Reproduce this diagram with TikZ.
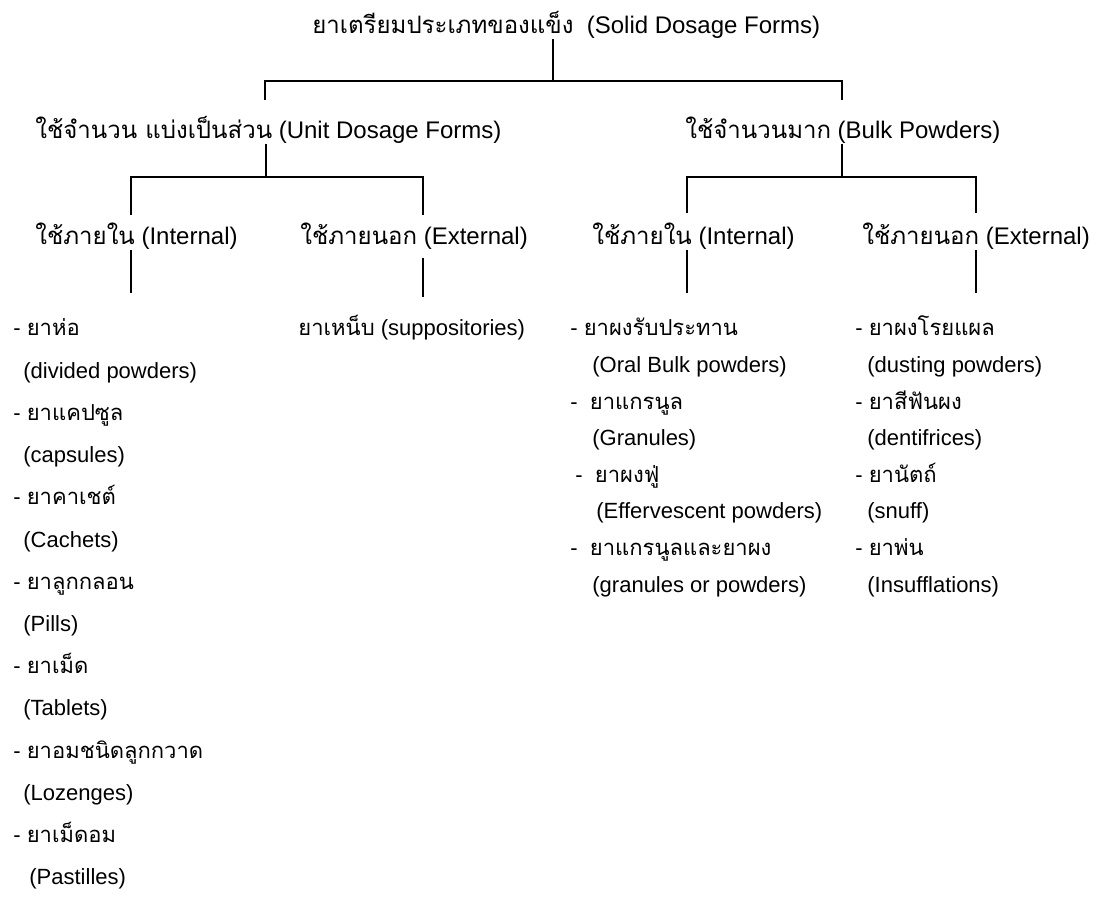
\documentclass[tikz,border=0pt]{standalone}
\usepackage{fontspec}
\setmainfont{Liberation Sans}
\newfontfamily\thaifont[Script=Thai]{Loma}
\newcommand{\tw}[1]{{\thaifont #1}}

\begin{document}
\begin{tikzpicture}[x=0.5pt,y=-0.5pt,
	lbl/.style={anchor=base west,inner sep=0pt,font=\fontsize{12}{14}\selectfont},
	item/.style={anchor=base west,inner sep=0pt,font=\fontsize{11}{13}\selectfont},
	bar/.style={line width=1pt}]
	\useasboundingbox (0,0) rectangle (1098,919);

	% levels
	\node[lbl] (solid) at (312,34) {\tw{ยาเตรียมประเภทของแข็ง}\ \ (Solid Dosage Forms)};
	\node[lbl] (unit) at (35,139) {\tw{ใช้จำนวน แบ่งเป็นส่วน} (Unit Dosage Forms)};
	\node[lbl] (bulk) at (685,139) {\tw{ใช้จำนวนมาก} (Bulk Powders)};
	\node[lbl] (uint) at (35,245) {\tw{ใช้ภายใน} (Internal)};
	\node[lbl] (uext) at (300,245) {\tw{ใช้ภายนอก} (External)};
	\node[lbl] (bint) at (592,245) {\tw{ใช้ภายใน} (Internal)};
	\node[lbl] (bext) at (862,245) {\tw{ใช้ภายนอก} (External)};

	% brackets
	\coordinate (j1) at (553,81);
	\coordinate (j1a) at (265,100);
	\coordinate (j1b) at (842,100);
	\draw[bar] (j1 |- solid.south) -- (j1);
	\draw[bar] (j1a) |- (j1b |- j1) -- (j1b);

	\coordinate (j2) at (266,177);
	\coordinate (j2a) at (131,215);
	\coordinate (j2b) at (423,215);
	\draw[bar] (j2 |- unit.south) -- (j2);
	\draw[bar] (j2a) |- (j2b |- j2) -- (j2b);

	\coordinate (j3) at (842,177);
	\coordinate (j3a) at (687,213);
	\coordinate (j3b) at (976,213);
	\draw[bar] (j3 |- bulk.south) -- (j3);
	\draw[bar] (j3a) |- (j3b |- j3) -- (j3b);

	% drops to the lists
	\coordinate (k1) at (131,293);
	\coordinate (k2) at (423,297);
	\coordinate (k3) at (687,293);
	\coordinate (k4) at (976,293);
	\draw[bar] (k1 |- uint.south) -- (k1);
	\draw[bar] ([yshift=-4pt]k2 |- uext.south) -- (k2);
	\draw[bar] (k3 |- bint.south) -- (k3);
	\draw[bar] (k4 |- bext.south) -- (k4);

	% lists
	\foreach \tx/\en [count=\i] in {ยาห่อ/divided powders, ยาแคปซูล/capsules,
		ยาคาเชต์/Cachets, ยาลูกกลอน/Pills, ยาเม็ด/Tablets,
		ยาอมชนิดลูกกวาด/Lozenges}
	{
		\node[item] (ui\i) at (13,{336+(\i-1)*84.4}) {- \tw{\tx}};
		\node[item] (uie\i) at (23,{378.2+(\i-1)*84.4}) {(\en)};
	}
	\node[item] (ui7) at (13,842.4) {- \tw{ยาเม็ดอม}};
	\node[item] (uie7) at (29,884.6) {(Pastilles)};
	\node[item] (supp) at (298,336) {\tw{ยาเหน็บ} (suppositories)};

	\node[item] (bi1) at (570,336) {- \tw{ยาผงรับประทาน}};
	\node[item] (bie1) at (592,372.6) {(Oral Bulk powders)};
	\node[item] (bi2) at (570,409.2) {-\ \ \tw{ยาแกรนูล}};
	\node[item] (bie2) at (592,445.8) {(Granules)};
	\node[item] (bi3) at (575,482.4) {-\ \ \tw{ยาผงฟู่}};
	\node[item] (bie3) at (596,519) {(Effervescent powders)};
	\node[item] (bi4) at (570,555.6) {-\ \ \tw{ยาแกรนูลและยาผง}};
	\node[item] (bie4) at (592,592.2) {(granules or powders)};

	\foreach \tx/\en [count=\i] in {ยาผงโรยแผล/dusting powders, ยาสีฟันผง/dentifrices,
		ยานัตถ์/snuff, ยาพ่น/Insufflations}
	{
		\node[item] (be\i) at (855,{336+(\i-1)*73.2}) {- \tw{\tx}};
		\node[item] (bee\i) at (867,{372.6+(\i-1)*73.2}) {(\en)};
	}
\end{tikzpicture}
\end{document}
